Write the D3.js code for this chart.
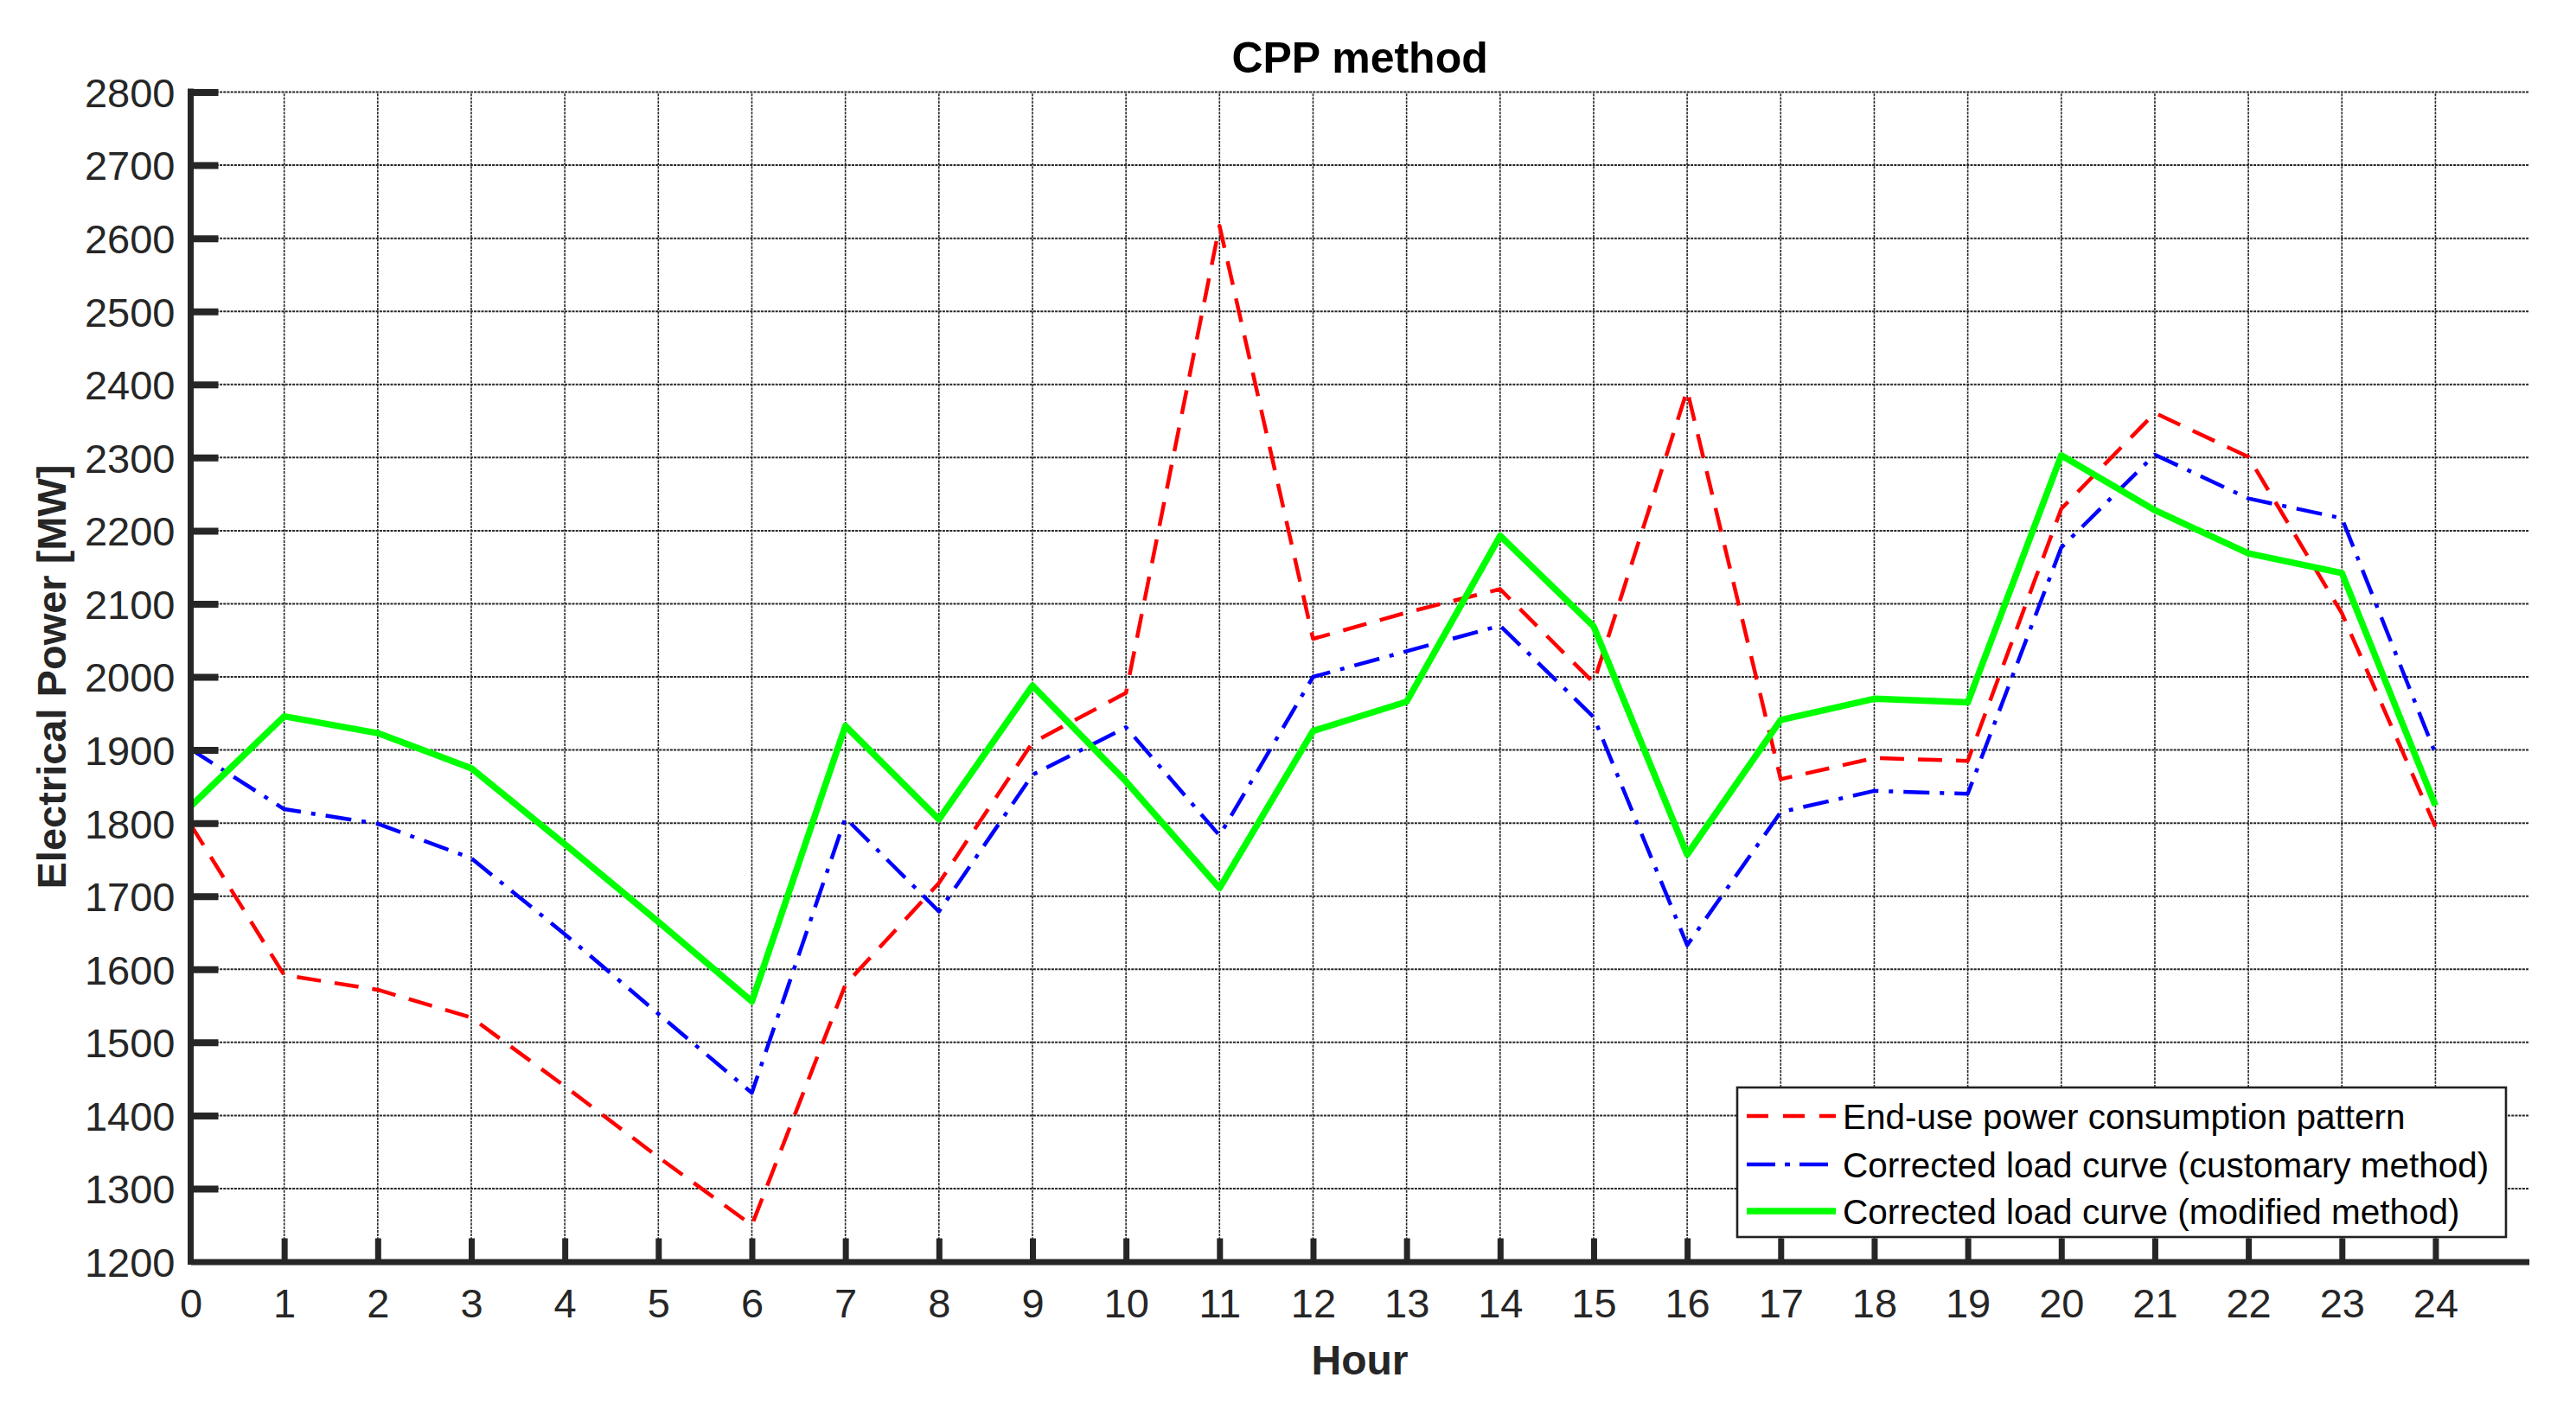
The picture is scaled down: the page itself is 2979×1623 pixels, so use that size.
<!DOCTYPE html>
<html>
<head>
<meta charset="utf-8">
<script src="https://cdn.jsdelivr.net/npm/d3@7"></script>
<style>
  html, body { margin: 0; padding: 0; background: #fff; }
  svg { display: block; font-family: "Liberation Sans", Arial, Helvetica, sans-serif; }
</style>
</head>
<body>
<svg id="chart" width="2979" height="1623"></svg>
<script>
// ---------- data ----------
const hours = [0, 1, 2, 3, 4, 5, 6, 7, 8, 9, 10, 11, 12, 13, 14, 15, 16, 17, 18, 19, 20, 21, 22, 23, 24];
const endUse = [1798, 1592, 1572, 1534, 1440, 1343, 1250, 1579, 1718, 1910, 1978, 2617, 2052, 2088, 2120, 1992, 2392, 1860, 1889, 1885, 2230, 2361, 2301, 2087, 1795];
const customary = [1901, 1819, 1799, 1752, 1648, 1539, 1431, 1807, 1679, 1866, 1931, 1783, 2000, 2035, 2070, 1945, 1633, 1815, 1844, 1840, 2177, 2304, 2244, 2217, 1895];
const modified = [1823, 1946, 1923, 1875, 1771, 1665, 1556, 1933, 1805, 1988, 1857, 1711, 1926, 1966, 2193, 2069, 1757, 1941, 1970, 1965, 2303, 2228, 2169, 2142, 1824];
const yTicks = [1200, 1300, 1400, 1500, 1600, 1700, 1800, 1900, 2000, 2100, 2200, 2300, 2400, 2500, 2600, 2700, 2800];
const xTicks = hours;
const seriesNames = ["End-use power consumption pattern", "Corrected load curve (customary method)", "Corrected load curve (modified method)"];
const titleText = "CPP method";
const xLabel = "Hour";
const yLabel = "Electrical Power [MW]";

// ---------- setup ----------
const svg = d3.select("#chart");
const axisColor = "#262626";
const x = d3.scaleLinear().domain([0, 25]).range([220.5, 2924.6]);
const y = d3.scaleLinear().domain([1200, 2800]).range([1459.5, 106.5]);

svg.append("rect").attr("width", 2979).attr("height", 1623).attr("fill", "#fff");

// ---------- grid ----------
const grid = svg.append("g");
grid.selectAll("line.h").data(yTicks.slice(1)).join("line")
  .attr("x1", x(0)).attr("x2", x(25))
  .attr("y1", d => y(d)).attr("y2", d => y(d))
  .attr("stroke", axisColor).attr("stroke-width", 2).attr("stroke-dasharray", "3,1.2");
grid.selectAll("line.v").data(xTicks.slice(1)).join("line")
  .attr("x1", d => x(d)).attr("x2", d => x(d))
  .attr("y1", y(1200)).attr("y2", y(2800))
  .attr("stroke", axisColor).attr("stroke-width", 1.6).attr("stroke-dasharray", "3,1.2");

// ---------- series ----------
const series = [
  { name: seriesNames[0], values: endUse, color: "#ff0000", width: 4.5, dash: "28,16" },
  { name: seriesNames[1], values: customary, color: "#0000ff", width: 4.5, dash: "30,12,5,12" },
  { name: seriesNames[2], values: modified, color: "#00ff00", width: 7.5, dash: null }
];
const line = d3.line().x((d, i) => x(hours[i])).y(d => y(d));
svg.append("g").selectAll("path").data(series).join("path")
  .attr("d", s => line(s.values))
  .attr("fill", "none")
  .attr("stroke", s => s.color)
  .attr("stroke-width", s => s.width)
  .attr("stroke-linejoin", "round")
  .attr("stroke-dasharray", s => s.dash);

// ---------- axes ----------
const xAxis = d3.axisBottom(x).tickValues(xTicks).tickSizeInner(-27).tickSizeOuter(0).tickPadding(31).tickFormat(d3.format("d"));
const gx = svg.append("g").attr("transform", `translate(0,${y(1200)})`).call(xAxis);
gx.select(".domain").attr("stroke", axisColor).attr("stroke-width", 7);
gx.selectAll(".tick line").attr("stroke", axisColor).attr("stroke-width", 7);
gx.selectAll(".tick text").attr("fill", axisColor).attr("font-size", 47)
  .attr("font-family", "'Liberation Sans', Arial, sans-serif").attr("dy", "0.71em");
gx.selectAll(".tick").filter(d => d === 0).select("line").remove();

const yAxis = d3.axisLeft(y).tickValues(yTicks).tickSizeInner(-32).tickSizeOuter(0).tickPadding(18).tickFormat(d3.format("d"));
const gy = svg.append("g").attr("transform", `translate(${x(0)},0)`).call(yAxis);
gy.select(".domain").attr("stroke", axisColor).attr("stroke-width", 7)
  .attr("d", `M0,${y(2800) - 4}V${y(1200) + 3.5}`);
gy.selectAll(".tick line").attr("stroke", axisColor).attr("stroke-width", 8);
gy.selectAll(".tick text").attr("fill", axisColor).attr("font-size", 47)
  .attr("font-family", "'Liberation Sans', Arial, sans-serif").attr("dy", "0.36em");
gy.selectAll(".tick").filter(d => d === 1200).select("line").remove();

// ---------- labels ----------
svg.append("text").attr("x", (x(0) + x(25)) / 2).attr("y", 84)
  .attr("text-anchor", "middle").attr("font-size", 50).attr("font-weight", "bold")
  .attr("fill", "#000").text(titleText);
svg.append("text").attr("x", (x(0) + x(25)) / 2).attr("y", 1590)
  .attr("text-anchor", "middle").attr("font-size", 48).attr("font-weight", "bold")
  .attr("fill", axisColor).text(xLabel);
svg.append("text").attr("transform", `translate(76,${(y(1200) + y(2800)) / 2}) rotate(-90)`)
  .attr("text-anchor", "middle").attr("font-size", 47).attr("font-weight", "bold")
  .attr("fill", axisColor).text(yLabel);

// ---------- legend ----------
const lg = svg.append("g");
lg.append("rect").attr("x", 2009).attr("y", 1258).attr("width", 889).attr("height", 173)
  .attr("fill", "#fff").attr("stroke", "#222").attr("stroke-width", 2.6);
const rowY = [1291, 1347, 1401];
const rows = lg.selectAll("g.row").data(series).join("g").attr("transform", (s, i) => `translate(0,${rowY[i]})`);
rows.append("line").attr("x1", 2020).attr("x2", 2123).attr("y1", 0).attr("y2", 0)
  .attr("stroke", s => s.color).attr("stroke-width", s => s.width)
  .attr("stroke-dasharray", (s, i) => i === 0 ? "25,17" : (i === 1 ? "33,11,6,11" : null));
rows.append("text").attr("x", 2131).attr("y", 14.5).attr("font-size", 40.5).attr("fill", "#000").text(s => s.name);
</script>
</body>
</html>
